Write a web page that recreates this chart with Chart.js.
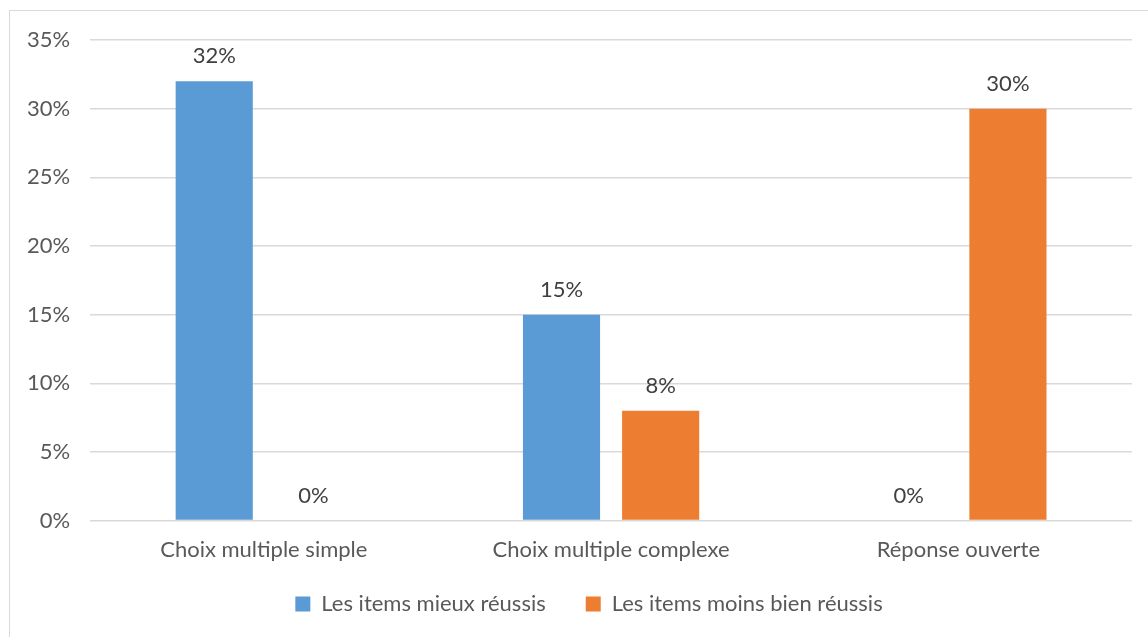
<!DOCTYPE html>
<html>
<head>
<meta charset="utf-8">
<script src="https://cdn.jsdelivr.net/npm/chart.js@4"></script>
<style>
  html, body { margin: 0; padding: 0; background: #fff; overflow: hidden; }
  #frame {
    position: absolute; left: 9px; top: 10px;
    width: 1200px; height: 700px;
    border: 1px solid #d9d9d9; box-sizing: border-box;
  }
  #wrap {
    position: absolute; left: 10px; top: 11px;
    width: 1168px; height: 640px;
  }
  canvas { display: block; }
</style>
</head>
<body>
<div id="frame"></div>
<div id="wrap"><canvas id="c"></canvas></div>
<script>
const categories = ['Choix multiple simple', 'Choix multiple complexe', 'Réponse ouverte'];
const seriesNames = ['Les items mieux réussis', 'Les items moins bien réussis'];
const mieuxReussis = [32, 15, 0];
const moinsBienReussis = [0, 8, 30];
const yTicks = [0, 5, 10, 15, 20, 25, 30, 35];

const FONT = 'Lato, Carlito, Calibri, sans-serif';
const TEXT = '#595959';
const Y_TICK_PAD = 20;
const LEGEND_LIFT = 18;

// Writes each bar's value as a percentage just above the bar
const valueLabels = {
  id: 'valueLabels',
  afterDatasetsDraw(chart) {
    const ctx = chart.ctx;
    ctx.save();
    ctx.font = '22px ' + FONT;
    ctx.fillStyle = '#404040';
    ctx.textAlign = 'center';
    ctx.textBaseline = 'middle';
    chart.data.datasets.forEach((ds, i) => {
      chart.getDatasetMeta(i).data.forEach((bar, j) => {
        ctx.fillText(ds.data[j] + '%', bar.x, bar.y - 25);
      });
    });
    ctx.restore();
  }
};

// Pulls the legend row up closer to the category labels
const legendLift = {
  id: 'legendLift',
  afterLayout(chart) {
    const lg = chart.legend;
    if (lg) { lg.top -= LEGEND_LIFT; lg.bottom -= LEGEND_LIFT; }
  }
};

new Chart(document.getElementById('c'), {
  type: 'bar',
  data: {
    labels: categories,
    datasets: [
      { label: seriesNames[0], data: mieuxReussis, backgroundColor: '#5b9bd5' },
      { label: seriesNames[1], data: moinsBienReussis, backgroundColor: '#ed7d31' }
    ]
  },
  options: {
    responsive: true,
    maintainAspectRatio: false,
    animation: false,
    layout: { padding: { left: 17, right: 27, top: 29, bottom: 8 } },
    datasets: { bar: { categoryPercentage: 0.571, barPercentage: 0.778 } },
    scales: {
      x: {
        grid: { display: false },
        border: { display: false },
        ticks: { color: TEXT, font: { family: FONT, size: 22 }, padding: 8 },
        afterFit(scale) {
          scale.paddingLeft = 0;
          scale.paddingRight = 46;
        }
      },
      y: {
        min: 0, max: 35,
        afterBuildTicks(axis) { axis.ticks = yTicks.map(v => ({ value: v })); },
        afterFit(scale) {
          scale.width -= Y_TICK_PAD;
          scale.paddingTop = 0;
          scale.paddingBottom = 0;
        },
        grid: { color: '#d9d9d9', lineWidth: 1.5, drawTicks: false },
        border: { display: false },
        ticks: {
          color: TEXT, font: { family: FONT, size: 22 }, padding: Y_TICK_PAD,
          callback: v => v + '%'
        }
      }
    },
    plugins: {
      legend: {
        position: 'bottom',
        labels: {
          color: TEXT, font: { family: FONT, size: 22 },
          boxWidth: 15, boxHeight: 15, padding: 40
        }
      },
      tooltip: { enabled: false }
    }
  },
  plugins: [valueLabels, legendLift]
});
</script>
</body>
</html>
